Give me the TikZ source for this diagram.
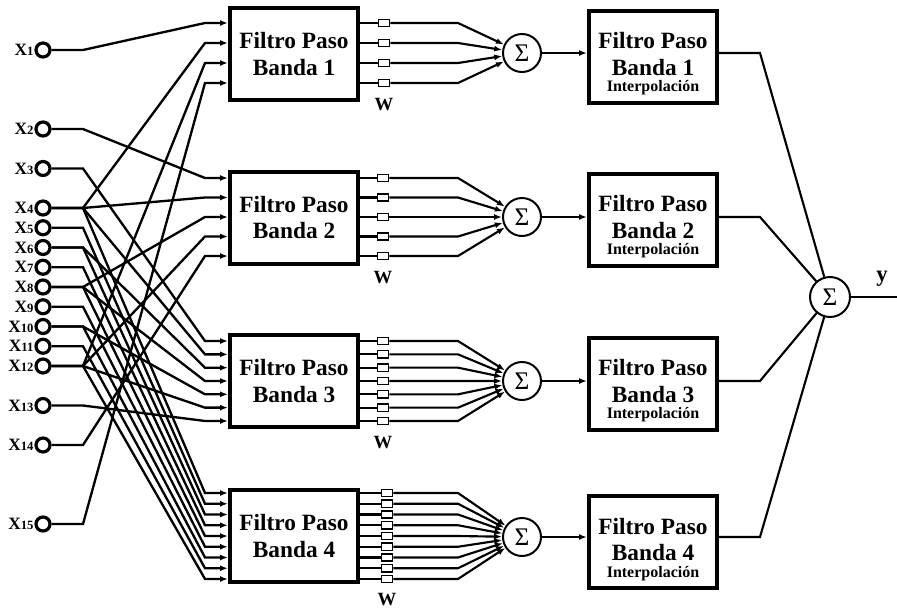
\documentclass[tikz,border=0pt]{standalone}
\usepackage{fontspec}
\setmainfont{Liberation Serif}
\usetikzlibrary{arrows.meta}
\newcommand{\xlab}[1]{{\fontsize{13}{13}\selectfont X}{\fontsize{9.5}{9.5}\selectfont #1}}
\begin{document}
\begin{tikzpicture}[x=0.75pt,y=-0.75pt,
  wire/.style={line width=1.75pt},
  owire/.style={line width=1.6pt},
  tip/.style={-{Latex[length=6pt,width=4.5pt]}},
  incirc/.style={circle,draw,line width=2.4pt,minimum size=10.5pt,inner sep=0pt},
  lab/.style={font=\bfseries,inner sep=0.5pt},
  fbox/.style={draw,line width=3pt,minimum width=96pt,minimum height=69pt,align=center,
    font=\fontsize{17.5}{20}\selectfont\bfseries,inner sep=0pt},
  ibox/.style={fbox,minimum height=69pt},
  wsq/.style={draw,line width=1.2pt,minimum width=8.25pt,minimum height=5.5pt,inner sep=0pt},
  sig/.style={circle,draw,line width=1.5pt,minimum size=28.5pt,inner sep=0pt,font=\fontsize{19}{19}\selectfont},
  wl/.style={font=\fontsize{14}{14}\selectfont\bfseries,inner sep=0pt}
]
\useasboundingbox (0,0) rectangle (897,608);

% inputs
\foreach \k/\y in {1/50,2/129,3/168.5,4/208,5/227.75,6/247.5,7/267.25,8/287,9/306.75,10/326.5,11/346.25,12/366,13/405.5,14/445,15/524}
  \node[incirc,label distance=1pt,label={[lab]left:\xlab{\k}}] (x\k) at (43,\y) {};

\coordinate (bx) at (83,0);
\coordinate (ax) at (205,0);
\coordinate (ox) at (458,0);
\coordinate (fx) at (760,0);

% filter boxes
\node[fbox] (f1) at (294,54) {Filtro Paso\\Banda 1};
\node[fbox] (f2) at (294,217.5) {Filtro Paso\\Banda 2};
\node[fbox] (f3) at (294,381) {Filtro Paso\\Banda 3};
\node[fbox] (f4) at (294,536) {Filtro Paso\\Banda 4};

% summing nodes
\node[sig] (s1) at (522,53) {Σ};
\node[sig] (s2) at (522,217) {Σ};
\node[sig] (s3) at (522,381) {Σ};
\node[sig] (s4) at (522,537) {Σ};

% input wiring
\foreach \b/\y/\dy/\list in {1/23/20/{1,4,12,15}, 2/178/19.5/{2,4,8,12,14}, 3/341/13.33/{3,4,6,8,10,12,13}, 4/493/10.75/{4,5,6,7,8,9,10,11,12}} {
  \foreach \s [count=\i from 0] in \list {
    \pgfmathsetmacro\yy{\y+\dy*\i}
    \coordinate (p\b\i) at (f\b.west |- 0,\yy);
    \draw[wire,tip] (x\s.east) -- (x\s -| bx) -- (p\b\i -| ax) -- (p\b\i);
  }
}

% outputs, weights
\foreach \b/\y/\dy/\n/\wx in {1/23/20/3/384, 2/178/19.5/4/383, 3/341/13.33/6/383, 4/493/10.75/8/387} {
  \foreach \i in {0,...,\n} {
    \pgfmathsetmacro\yy{\y+\dy*\i}
    \node[wsq] (w\b\i) at (\wx,\yy) {};
    \draw[owire] (f\b.east |- w\b\i) -- (w\b\i.west);
    \draw[owire,tip] (w\b\i.east) -- (w\b\i -| ox) -- (s\b);
  }
}

\node[wl] (W1) at (384,104.5) {W};
\node[wl] (W2) at (383,278) {W};
\node[wl] (W3) at (383,443) {W};
\node[wl] (W4) at (387,600) {W};

% interpolation boxes
\foreach \k/\y in {1/56.5,2/219.5,3/383.5,4/542}
  \node[ibox] (i\k) at (653,\y) {\rule{0pt}{23pt}Filtro Paso\\Banda \k\\[-7.75pt]{\fontsize{12}{12}\selectfont Interpolación}};

\node[sig,minimum size=30pt] (S) at (830,297) {Σ};
\coordinate (yend) at (897,297);

\foreach \k in {1,2,3,4} {
  \draw[owire,tip] (s\k.east) -- (i\k.west |- s\k);
  \coordinate (o\k) at (i\k.east |- s\k);
  \draw[owire] (o\k) -- (o\k -| fx) -- (S);
}
\draw[owire] (S.east) -- (yend);
\node[font=\fontsize{17}{17}\selectfont\bfseries,inner sep=0pt] (ylab) at (882,279) {y};
\end{tikzpicture}
\end{document}
